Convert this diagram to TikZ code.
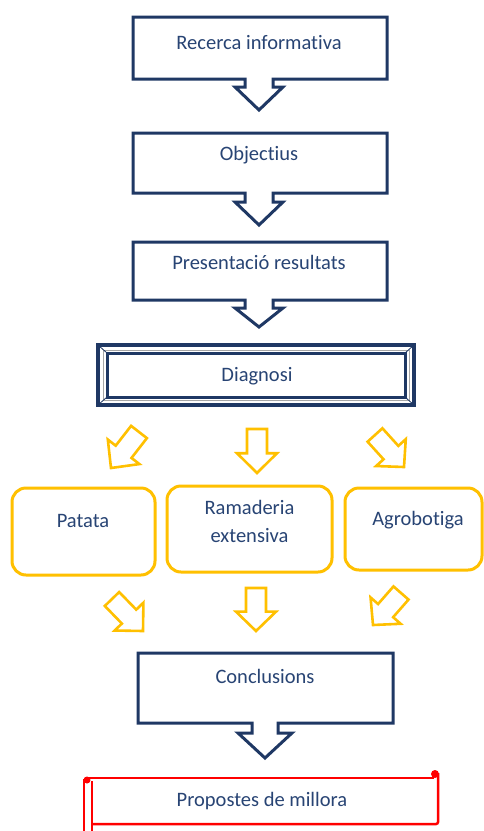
\documentclass[tikz,border=0pt]{standalone}
\usepackage{fontspec}
\setmainfont{Carlito}[Ligatures=NoCommon]
\usetikzlibrary{calc}
\definecolor{navy}{RGB}{31,56,100}
\definecolor{txt}{RGB}{40,68,116}
\definecolor{gold}{RGB}{255,192,0}
\definecolor{redline}{RGB}{255,0,0}
\newcommand{\blockarrow}[3]{%
  \coordinate (ba-h) at ($(#2)!0.55!(#3)$);
  \draw[#1] ($(#2)!10pt!90:(#3)$) -- ($(ba-h)!10pt!90:(#3)$) -- ($(ba-h)!20pt!90:(#3)$) -- (#3)
    -- ($(ba-h)!20pt!-90:(#3)$) -- ($(ba-h)!10pt!-90:(#3)$) -- ($(#2)!10pt!-90:(#3)$) -- cycle;
}
\tikzset{
  lbl/.style={text=txt, font=\fontsize{20.5}{28}\selectfont, inner sep=0pt, anchor=base},
  navybox/.style={draw=navy, line width=3pt, line join=miter, fill=white},
  goldbox/.style={draw=gold, line width=3pt, rounded corners=14pt, fill=white},
  goldarrow/.style={draw=gold, line width=2.6pt, line join=miter, fill=white},
  redl/.style={draw=redline, line width=2.5pt}
}
\begin{document}
\begin{tikzpicture}[x=1pt,y=-1pt]
\useasboundingbox[fill=white] (0,0) rectangle (484,831);
% callout boxes
\draw[navybox] (133,17) -- (387,17) -- (387,79) -- (273,79) -- (273,87) -- (283,87) -- (259,110) -- (235,87) -- (245,87) -- (245,79) -- (133,79) -- cycle;
\node[lbl] (t1) at (259,49) {Recerca informativa};
\draw[navybox] (133,133) -- (387,133) -- (387,193) -- (273,193) -- (273,202) -- (283,202) -- (259,225) -- (235,202) -- (245,202) -- (245,193) -- (133,193) -- cycle;
\node[lbl] (t2) at (259,160) {Objectius};
\draw[navybox] (133,242) -- (387,242) -- (387,300) -- (273,300) -- (273,308) -- (283,308) -- (259,327) -- (235,308) -- (245,308) -- (245,300) -- (133,300) -- cycle;
\node[lbl] (t3) at (259,269) {Presentació resultats};
% Diagnosi
\draw[draw=navy, line width=3.5pt, fill=white] (98,345) rectangle (414,405);
\draw[draw=gray!70, line width=1pt] (103,350) rectangle (409,400);
\draw[draw=navy, line width=0.8pt] (98,345) -- (107,353) (414,345) -- (405,353) (98,405) -- (107,397) (414,405) -- (405,397);
\draw[draw=navy, line width=3pt] (107,353) rectangle (405,397);
\node[lbl] (t4) at (257,381) {Diagnosi};
% upper yellow arrows
\coordinate (ua1) at (139,432); \coordinate (ub1) at (111,468);
\coordinate (ua2) at (257,429); \coordinate (ub2) at (257,473);
\coordinate (ua3) at (375,435); \coordinate (ub3) at (404,467);
\blockarrow{goldarrow}{ua1}{ub1}
\blockarrow{goldarrow}{ua2}{ub2}
\blockarrow{goldarrow}{ua3}{ub3}
% yellow boxes
\draw[goldbox] (12,488) rectangle (155,575);
\node[lbl] (p) at (83,527) {Patata};
\draw[goldbox] (167,486) rectangle (332,572);
\node[lbl, align=center, anchor=north] (r) at (249.5,500) {Ramaderia\\extensiva};
\draw[goldbox] (345,488) rectangle (482,570);
\node[lbl] (a) at (418,525) {Agrobotiga};
% lower yellow arrows
\coordinate (la1) at (112,599); \coordinate (lb1) at (143,631);
\coordinate (la2) at (256,588); \coordinate (lb2) at (256,631);
\coordinate (la3) at (401,593); \coordinate (lb3) at (373,625);
\blockarrow{goldarrow}{la1}{lb1}
\blockarrow{goldarrow}{la2}{lb2}
\blockarrow{goldarrow}{la3}{lb3}
% Conclusions
\draw[navybox] (138,653) -- (393,653) -- (393,723) -- (278,723) -- (278,733) -- (292,733) -- (265,758) -- (238,733) -- (252,733) -- (252,723) -- (138,723) -- cycle;
\node[lbl] (c) at (265,683) {Conclusions};
% Propostes de millora (scroll)
\draw[redl, rounded corners=2pt] (438,773) -- (438,824) -- (92,824);
\draw[redl] (86,778) -- (434,778);
\draw[redl] (92,781) -- (92,833);
\draw[redl] (84,779) -- (84,833);
\fill[redline] (435,774) circle (4);
\fill[redline] (87,780) circle (3.5);
\node[lbl] (pm) at (262,806) {Propostes de millora};
\end{tikzpicture}
\end{document}
